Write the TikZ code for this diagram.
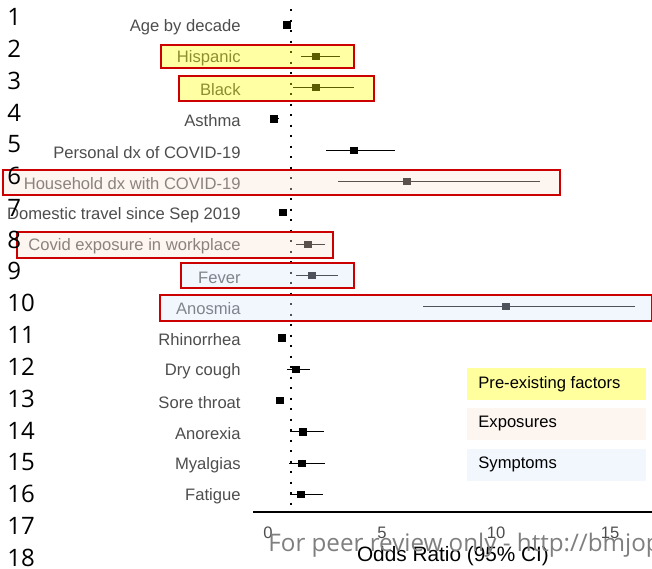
\documentclass[tikz,border=0pt]{standalone}
\usepackage{fontspec}
\setmainfont{Liberation Sans}
\newfontfamily\linefont{Open Sans}
\usepackage{tikz}
\usetikzlibrary{calc}

\definecolor{labelgray}{HTML}{4D4D4D}
\definecolor{markgray}{HTML}{7F7F7F}
\definecolor{hlred}{HTML}{CC0000}
\definecolor{hlyellow}{RGB}{255,255,0}
\definecolor{hlpeach}{RGB}{250,226,211}
\definecolor{hlblue}{RGB}{218,229,250}
\definecolor{legyellow}{RGB}{255,255,158}
\definecolor{legpeach}{RGB}{253,245,240}
\definecolor{legblue}{RGB}{242,246,253}

\tikzset{
  rowlabel/.style={anchor=east, inner sep=0pt, text=labelgray, font=\fontsize{8.3}{10}\selectfont},
  ticklabel/.style={inner sep=0pt, text=labelgray, font=\fontsize{8.3}{10}\selectfont},
  orbox/.style={fill=black, minimum size=3.6pt, inner sep=0pt},
  cibar/.style={line width=0.5pt},
  hlbox/.style={draw=hlred, line width=0.8pt, fill opacity=0.36},
  legbox/.style={anchor=west, minimum width=89.5pt, minimum height=16pt, inner sep=0pt},
  legtext/.style={anchor=west, inner sep=0pt, font=\fontsize{8.3}{10}\selectfont},
  linenum/.style={anchor=west, inner sep=0pt, font=\linefont\fontsize{12}{14}\selectfont}
}

\begin{document}
\begin{tikzpicture}[x=0.5pt, y=-0.5pt]
  \useasboundingbox (0,0) rectangle (652,568);
  \clip (0,0) rectangle (652,568);

  % reference line at OR = 1
  \draw[line width=1pt, dash pattern=on 1pt off 4.25pt] (291,9) -- (291,512);

  % rows: label / estimate / lower / upper
  \foreach \lab/\est/\lo/\hi [count=\i] in {
      Age by decade/287/285/290,
      Hispanic/316/301/340,
      Black/316/293/354,
      Asthma/274/272/279,
      Personal dx of COVID-19/354/326/395,
      Household dx with COVID-19/407/338/540,
      Domestic travel since Sep 2019/283/281/287,
      Covid exposure in workplace/308/296/325,
      Fever/312/296/338,
      Anosmia/506/423/635,
      Rhinorrhea/282/279/285,
      Dry cough/296/287/310,
      Sore throat/280/278/283,
      Anorexia/303/290/324,
      Myalgias/302/289/325,
      Fatigue/301/290/323} {
    \pgfmathsetmacro{\ry}{25+31.3*(\i-1)}
    \node[rowlabel] (lab\i) at (241,\ry+2) {\lab};
    \draw[cibar] (\lo,\ry) -- (\hi,\ry);
    \node[orbox] (est\i) at (\est,\ry) {};
  }

  % x axis
  \draw[line width=1pt] (253,512) -- (652,512);
  \node[ticklabel] (t0) at (268,533) {0};
  \node[ticklabel] (t5) at (382,533) {5};
  \node[ticklabel] (t10) at (496,533) {10};
  \node[ticklabel] (t15) at (610,533) {15};
  \node[inner sep=0pt, font=\fontsize{10.4}{12}\selectfont] (xtitle) at (453,556) {Odds Ratio (95\% CI)};

  % highlights
  \draw[hlbox, fill=hlyellow] (161,45) rectangle (354,68);
  \draw[hlbox, fill=hlyellow] (179,76) rectangle (374,101);
  \draw[hlbox, fill=hlpeach] (3,170) rectangle (560,195);
  \draw[hlbox, fill=hlpeach] (17,232) rectangle (333,258);
  \draw[hlbox, fill=hlblue] (181,263) rectangle (354,288);
  \draw[hlbox, fill=hlblue] (160,295) rectangle (652,321);

  % legend
  \node[legbox, fill=legyellow] (legpre) at (467,384) {};
  \node[legbox, fill=legpeach] (legexp) at (467,424) {};
  \node[legbox, fill=legblue] (legsym) at (467,465) {};
  \node[legtext] at (478,384) {Pre-existing factors};
  \node[legtext] at (478,424) {Exposures};
  \node[legtext] at (478,464) {Symptoms};

  % line numbers
  \foreach \n in {1,...,18} {
    \pgfmathsetmacro{\ny}{17+31.8*(\n-1)}
    \node[linenum] (ln\n) at (7,\ny) {\n};
  }

  % watermark
  \node[anchor=west, inner sep=0pt, text=markgray, font=\linefont\fontsize{12.1}{14}\selectfont] (wm) at (268,545) {For peer review only - http://bmjop};
\end{tikzpicture}
\end{document}
